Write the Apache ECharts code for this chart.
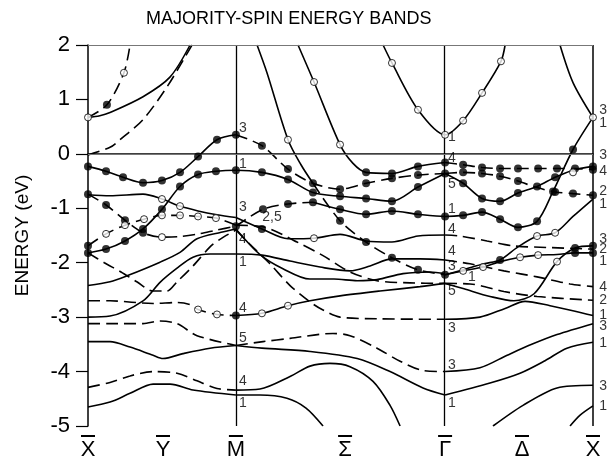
<!DOCTYPE html>
<html><head><meta charset="utf-8">
<script src="https://cdn.jsdelivr.net/npm/echarts@6/dist/echarts.min.js"></script>
<style>html,body{margin:0;padding:0;background:#fff}#c{width:608px;height:461px}</style>
</head><body><div id="c"></div>
<script>
// symmetry points along the surface Brillouin-zone path (X-M = 1, M-Gamma = sqrt2, Gamma-X = 1)
// the labels are the barred symmetry points (X̄, Ȳ, M̄, Σ̄, Γ̄, Δ̄, X̄); the bar is drawn above each letter
const kTicks = [0, 0.507, 1, 1.738, 2.4142, 2.934, 3.4142];
const kTickLabels = ['X', 'Y', 'M', '\u03A3', '\u0393', '\u0394', 'X'];
const energyMin = -5, energyMax = 2;

// bands: [k, E(eV)]
const bandT1 = [[0,0.67],[0.08,0.70],[0.149,0.76],[0.372,1.05],[0.554,1.41],[0.69,2.0]];
const bandT2 = [[0,0.67],[0.128,0.90],[0.243,1.49],[0.284,2.0]];
const bandT3 = [[0,-0.02],[0.149,0.12],[0.216,0.26],[0.372,0.63],[0.534,1.23],[0.656,1.78],[0.703,2.0]];
const bandC1 = [[0,-0.23],[0.122,-0.32],[0.237,-0.43],[0.372,-0.53],[0.5,-0.49],[0.622,-0.34],[0.744,-0.05],[0.872,0.26],[1.0,0.35]];
const bandC2 = [[1.0,0.35],[1.176,0.15],[1.352,-0.28],[1.521,-0.54],[1.704,-0.65],[1.88,-0.54],[2.055,-0.45],[2.231,-0.39],[2.414,-0.36]];
const bandD1 = [[0,-1.82],[0.122,-1.75],[0.25,-1.6],[0.372,-1.38],[0.5,-1.02],[0.622,-0.6],[0.744,-0.38],[0.865,-0.32],[1.0,-0.3],[1.176,-0.34],[1.352,-0.47],[1.521,-0.71],[1.704,-0.78],[1.88,-0.82],[2.055,-0.87],[2.231,-0.61],[2.414,-0.36]];
const bandE1 = [[0,-0.75],[0.149,-0.77],[0.372,-0.74],[0.5,-0.83],[0.622,-0.96],[0.744,-1.05],[0.872,-1.12],[1.0,-1.17]];
const bandE2 = [[1.0,-1.17],[1.176,-1.38],[1.352,-1.56],[1.528,-1.55],[1.704,-1.48],[1.88,-1.6],[2.055,-1.62],[2.231,-1.51],[2.414,-1.49]];
const bandE3 = [[2.414,-1.49],[2.515,-1.51],[2.698,-1.6],[2.874,-1.69],[3.104,-1.72],[3.414,-1.75]];
const bandF1 = [[0,-0.74],[0.122,-0.94],[0.25,-1.22],[0.372,-1.45],[0.5,-1.53],[0.622,-1.52],[0.75,-1.47],[0.87,-1.4],[1.0,-1.33]];
const bandF2 = [[1.0,-1.33],[1.183,-1.02],[1.352,-0.92],[1.521,-0.89]];
const bandF3 = [[1.521,-0.89],[1.704,-1.02],[1.88,-1.11],[2.055,-1.05],[2.231,-1.11],[2.414,-1.15],[2.536,-1.13],[2.664,-1.07],[2.786,-1.2],[2.907,-1.35],[3.036,-1.24],[3.144,-0.69],[3.279,0.08],[3.414,0.67]];
const bandG1 = [[0,-1.69],[0.122,-1.47],[0.25,-1.31],[0.379,-1.2],[0.5,-1.13],[0.622,-1.13],[0.744,-1.15],[0.865,-1.18],[1.0,-1.31]];
const bandG2 = [[1.0,-1.31],[1.197,-1.35],[1.413,-1.62],[1.589,-1.87],[1.771,-2.17],[1.954,-2.33],[2.177,-2.37],[2.414,-2.38]];
const bandI1 = [[0,-1.82],[0.11,-2.0],[0.223,-2.17],[0.33,-2.35],[0.44,-2.52],[0.534,-2.52],[0.602,-2.35],[0.71,-2.06],[0.825,-1.71],[0.892,-1.57],[1.0,-1.4]];
const bandI2 = [[1.0,-1.4],[1.095,-1.66],[1.23,-2.02],[1.366,-2.42],[1.501,-2.72],[1.589,-2.87],[1.704,-3.0],[1.954,-3.03],[2.414,-3.04]];
const bandI3 = [[2.414,-3.04],[2.65,-3.0],[2.82,-2.84],[2.955,-2.71],[3.124,-2.79],[3.293,-2.89],[3.414,-2.97]];
const bandJ1 = [[0,-2.42],[0.149,-2.35],[0.264,-2.24],[0.487,-1.99],[0.622,-1.81],[0.737,-1.56],[0.9,-1.44],[1.0,-1.38]];
const bandJ2 = [[1.0,-1.38],[1.163,-1.85],[1.318,-2.11],[1.5,-2.3],[1.663,-2.3],[1.82,-2.33],[1.954,-2.31],[2.13,-2.2],[2.312,-2.17],[2.414,-2.2]];
const bandJ3 = [[2.414,-2.22],[2.536,-2.15],[2.671,-2.08],[2.786,-1.98],[2.921,-1.9],[3.043,-1.86],[3.171,-1.85],[3.293,-1.82],[3.414,-1.82]];
const bandU1 = [[1.143,2.0],[1.21,1.49],[1.352,0.26],[1.44,-0.2],[1.521,-0.54]];
const bandU2 = [[1.521,-0.54],[1.704,-1.23],[1.88,-1.62],[2.055,-1.91],[2.231,-2.13],[2.414,-2.22]];
const bandU3 = [[2.414,-2.22],[2.536,-2.13],[2.677,-2.02],[2.786,-1.95],[2.907,-1.71],[3.036,-1.51],[3.158,-1.45],[3.279,-1.15],[3.414,-0.83]];
const bandA1 = [[1.42,2.0],[1.528,1.32],[1.704,0.17],[1.79,-0.17],[1.88,-0.34],[2.055,-0.36],[2.231,-0.23],[2.414,-0.16]];
const bandA2 = [[2.414,-0.16],[2.536,-0.2],[2.664,-0.25],[2.786,-0.27],[2.907,-0.27],[3.043,-0.27],[3.171,-0.27],[3.293,-0.27],[3.414,-0.29]];
const bandB2 = [[2.414,-0.36],[2.536,-0.34],[2.664,-0.36],[2.786,-0.41],[2.907,-0.5],[3.036,-0.62],[3.158,-0.7],[3.279,-0.73],[3.414,-0.76]];
const bandD2 = [[2.414,-0.36],[2.536,-0.54],[2.664,-0.82],[2.786,-0.87],[2.907,-0.72],[3.036,-0.6],[3.158,-0.43],[3.279,-0.3],[3.414,-0.23]];
const bandK1 = [[0,-3.0],[0.149,-2.98],[0.372,-2.7],[0.487,-2.36],[0.602,-2.1],[0.71,-1.9],[0.825,-1.84],[1.0,-1.84]];
const bandK2 = [[1.0,-1.84],[1.176,-1.86],[1.366,-1.97],[1.569,-2.08],[1.771,-2.15],[1.907,-2.06],[2.055,-1.93],[2.245,-1.93],[2.414,-1.95]];
const bandK3 = [[2.414,-1.95],[2.583,-2.02],[2.812,-2.15],[3.036,-2.26],[3.259,-2.39],[3.414,-2.44]];
const bandL1 = [[0,-2.7],[0.149,-2.7],[0.44,-2.75],[0.602,-2.73],[0.69,-2.77],[0.744,-2.86],[0.872,-2.95],[1.0,-2.97]];
const bandL2 = [[1.0,-2.97],[1.176,-2.93],[1.352,-2.79],[1.501,-2.7],[1.704,-2.61],[1.974,-2.52],[2.245,-2.44],[2.414,-2.38]];
const bandL3 = [[2.414,-2.38],[2.583,-2.39],[2.812,-2.53],[3.036,-2.62],[3.414,-2.69]];
const bandL4 = [[2.414,-2.38],[2.542,-2.48],[2.718,-2.62],[2.88,-2.7],[3.016,-2.57],[3.171,-1.98],[3.293,-1.73],[3.414,-1.69]];
const bandM1 = [[0,-3.12],[0.149,-3.12],[0.372,-3.12],[0.487,-3.07],[0.602,-3.12],[0.737,-3.34],[1.0,-3.52]];
const bandM2 = [[1.0,-3.52],[1.183,-3.45],[1.366,-3.39],[1.656,-3.3],[1.771,-3.34],[1.954,-3.57],[2.11,-3.81],[2.265,-3.98],[2.414,-4.0]];
const bandM3 = [[2.414,-4.0],[2.65,-3.93],[2.834,-3.7],[3.0,-3.5],[3.171,-3.32],[3.414,-3.12]];
const bandN1 = [[0,-3.45],[0.149,-3.45],[0.284,-3.55],[0.44,-3.7],[0.507,-3.76],[0.642,-3.67],[0.825,-3.57],[1.0,-3.52]];
const bandN2 = [[1.0,-3.52],[1.176,-3.57],[1.501,-3.63],[1.82,-3.76],[2.042,-4.0],[2.265,-4.3],[2.414,-4.43]];
const bandN3 = [[2.414,-4.43],[2.718,-4.21],[2.921,-4.03],[3.09,-3.8],[3.238,-3.57],[3.414,-3.46]];
const bandO1 = [[0,-4.29],[0.149,-4.2],[0.284,-4.08],[0.44,-4.0],[0.602,-4.03],[0.737,-4.17],[0.872,-4.31],[1.0,-4.34]];
const bandO2 = [[1.0,-4.34],[1.163,-4.32],[1.366,-4.09],[1.501,-3.9],[1.636,-3.85],[1.771,-3.91],[1.927,-4.18],[2.042,-4.62],[2.11,-5.0]];
const bandP1 = [[0,-4.65],[0.149,-4.56],[0.284,-4.4],[0.44,-4.23],[0.555,-4.23],[0.71,-4.34],[1.0,-4.43]];
const bandP2 = [[1.0,-4.43],[1.163,-4.43],[1.345,-4.49],[1.474,-4.67],[1.589,-5.0]];
const bandQ1 = [[2.738,-5.0],[2.941,-4.62],[3.171,-4.3],[3.414,-4.25]];
const bandQ2 = [[3.259,-5.0],[3.327,-4.8],[3.414,-4.63]];
const bandV  = [[1.995,2.0],[2.055,1.67],[2.231,0.81],[2.414,0.35],[2.536,0.61],[2.664,1.12],[2.792,1.7],[2.82,2.0]];
const bandW  = [[3.191,2.0],[3.279,1.31],[3.414,0.67]];

// calculated points
const filledPoints = [
 [0.128,0.90],
 [0,-0.23],[0.122,-0.32],[0.237,-0.43],[0.372,-0.53],[0.5,-0.49],[0.622,-0.34],[0.744,-0.05],[0.872,0.26],[1.0,0.35],
 [0,-1.82],[0.122,-1.75],[0.25,-1.6],[0.372,-1.38],[0.5,-1.02],[0.622,-0.6],[0.744,-0.38],[0.865,-0.32],[1.0,-0.3],
 [0,-0.74],[0.122,-0.94],[0.25,-1.22],[0.372,-1.45],[1.0,-1.33],[0,-1.69],[1.0,-2.97],
 [1.176,0.15],[1.352,-0.28],[1.521,-0.54],[1.704,-0.65],[1.88,-0.54],[2.055,-0.45],[2.231,-0.39],[2.414,-0.36],
 [1.176,-0.34],[1.352,-0.47],[1.521,-0.71],[1.704,-0.78],[1.88,-0.82],[2.055,-0.87],[2.231,-0.61],
 [1.88,-0.34],[2.055,-0.36],[2.231,-0.23],[2.414,-0.16],
 [1.183,-1.02],[1.352,-0.92],[1.521,-0.89],[1.704,-1.02],[1.88,-1.11],[2.055,-1.05],[2.231,-1.11],[2.414,-1.15],
 [1.704,-1.23],[1.88,-1.62],[2.055,-1.91],[2.231,-2.13],[2.414,-2.22],[1.176,-1.38],
 [2.536,-0.2],[2.664,-0.25],[2.786,-0.27],[2.907,-0.27],[3.043,-0.27],[3.171,-0.27],[3.293,-0.27],[3.414,-0.29],
 [2.536,-0.34],[2.664,-0.36],[2.786,-0.41],[2.907,-0.5],[3.158,-0.7],[3.279,-0.73],[3.414,-0.76],
 [2.536,-0.54],[2.664,-0.82],[2.786,-0.87],[2.907,-0.72],[3.036,-0.6],[3.158,-0.43],[3.414,-0.23],
 [2.536,-1.13],[2.664,-1.07],[2.786,-1.2],[2.907,-1.35],[3.036,-1.24],[3.144,-0.69],[3.279,0.08],
 [2.786,-1.95],[3.293,-1.73],[3.414,-1.69],[3.293,-1.82],[3.414,-1.82]
];
const openPoints = [
 [0,0.67],[0.243,1.49],[0.5,-0.83],[0.622,-0.96],
 [0.122,-1.47],[0.25,-1.31],[0.379,-1.2],[0.5,-1.13],[0.622,-1.13],[0.744,-1.15],[0.865,-1.18],
 [0.5,-1.53],[0.744,-2.86],[0.872,-2.95],[1.176,-2.93],[1.352,-2.79],
 [1.352,0.26],[1.528,1.32],[1.704,0.17],[1.528,-1.55],
 [2.055,1.67],[2.231,0.81],[2.414,0.35],[2.536,0.61],[2.664,1.12],[2.792,1.70],[3.414,0.67],
 [2.536,-2.15],[2.671,-2.08],[2.921,-1.9],[3.043,-1.86],[3.036,-1.51],[3.158,-1.45],[3.171,-1.98],[3.279,-0.34]
];

// symmetry labels of the bands: [k, E, text]
const bandLabels = [
 [1.048,0.48,'3'],[1.048,-0.19,'1'],[1.048,-0.98,'3'],[1.244,-1.16,'2,5'],[1.048,-1.56,'4'],[1.048,-1.99,'1'],
 [1.048,-2.84,'4'],[1.048,-3.39,'5'],[1.048,-4.18,'4'],[1.048,-4.58,'1'],
 [2.461,0.30,'1'],[2.461,-0.07,'4'],[2.461,-0.56,'5'],[2.461,-1.02,'1'],[2.461,-1.39,'4'],[2.461,-1.78,'4'],
 [2.461,-2.06,'3'],[2.596,-2.26,'1'],[2.461,-2.53,'5'],[2.461,-3.21,'3'],[2.461,-3.89,'3'],[2.461,-4.58,'1'],
 [3.482,0.81,'3'],[3.482,0.57,'1'],[3.482,-0.03,'3'],[3.482,-0.32,'4'],[3.482,-0.69,'2'],[3.482,-0.92,'1'],
 [3.482,-1.56,'3'],[3.482,-1.75,'2'],[3.482,-1.97,'1'],[3.482,-2.44,'4'],[3.482,-2.69,'2'],[3.482,-2.97,'1'],
 [3.482,-3.17,'3'],[3.482,-3.48,'1'],[3.482,-4.27,'3'],[3.482,-4.64,'1']
];

// [data, dashed?]
const bandList = [
 [bandT1,0],[bandT2,1],[bandT3,1],[bandC1,0],[bandC2,1],[bandD1,0],[bandE1,0],[bandE2,0],[bandE3,1],
 [bandF1,1],[bandF2,1],[bandF3,0],[bandG1,1],[bandG2,1],[bandI1,1],[bandI2,1],[bandI3,0],
 [bandJ1,0],[bandJ2,0],[bandJ3,0],[bandU1,0],[bandU2,1],[bandU3,0],[bandA1,0],[bandA2,1],[bandB2,1],[bandD2,0],
 [bandK1,0],[bandK2,0],[bandK3,1],[bandL1,1],[bandL2,0],[bandL3,1],[bandL4,0],[bandM1,1],[bandM2,1],[bandM3,0],
 [bandN1,0],[bandN2,0],[bandN3,0],[bandO1,1],[bandO2,0],[bandP1,0],[bandP2,0],[bandQ1,0],[bandQ2,0],[bandV,0],[bandW,0]
];

const FONT = 'Liberation Sans, Arial, Helvetica, sans-serif';
const chart = echarts.init(document.getElementById('c'), null, {renderer: 'canvas'});
const series = bandList.map(([d, dashed]) => ({
  type: 'line', data: d, smooth: 0.3, symbol: 'none', silent: true, z: 2,
  lineStyle: {color: '#000', width: 1.6, type: dashed ? [12, 6] : 'solid'}
}));
series.push({
  type: 'line', data: [], silent: true, z: 1,
  markLine: {
    silent: true, symbol: 'none', label: {show: false}, animation: false,
    data: [
      {xAxis: 1, lineStyle: {color: '#000', width: 1.3, type: 'solid'}},
      {xAxis: kTicks[4], lineStyle: {color: '#000', width: 1.3, type: 'solid'}},
      {xAxis: kTicks[6], lineStyle: {color: '#000', width: 1.5, type: 'solid'}},
      {yAxis: 0, lineStyle: {color: '#777', width: 1.2, type: 'solid'}},
      {yAxis: energyMax, lineStyle: {color: '#777', width: 1.2, type: 'solid'}}
    ]
  }
});
series.push({
  type: 'scatter', data: filledPoints, symbol: 'circle', symbolSize: 8, z: 5, silent: true, clip: false,
  itemStyle: {color: '#000'}
});
series.push({
  type: 'scatter', data: openPoints, symbol: 'circle', symbolSize: 7, z: 6, silent: true, clip: false,
  itemStyle: {color: '#fff', borderColor: '#000', borderWidth: 1}
});
series.push({
  type: 'scatter', data: bandLabels, symbolSize: 1, z: 7, silent: true, clip: false,
  itemStyle: {color: 'rgba(0,0,0,0)'},
  label: {show: true, position: 'inside', formatter: p => p.data[2], color: '#000', fontSize: 14, fontFamily: FONT}
});

chart.setOption({
  animation: false,
  backgroundColor: '#fff',
  grid: {left: 88, right: 15, top: 45, bottom: 33, containLabel: false},
  graphic: [{
    type: 'text', left: 288 - 142, top: 10,
    style: {text: 'MAJORITY-SPIN ENERGY BANDS', font: '18px ' + FONT, fill: '#000'}
  }],
  xAxis: {
    type: 'value', min: 0, max: kTicks[6],
    axisLine: {show: true, lineStyle: {color: '#000', width: 1.5}},
    axisTick: {show: false},
    splitLine: {show: false},
    axisLabel: {
      show: true, customValues: kTicks, margin: 6, color: '#000',
      formatter: v => { const i = kTicks.findIndex(t => Math.abs(t - v) < 1e-3); return i >= 0 ? '{bar| }\n{t|' + kTickLabels[i] + '}' : ''; },
      rich: {
        bar: {width: 14, height: 2, lineHeight: 8, backgroundColor: '#000', align: 'center', fontSize: 2},
        t: {fontSize: 22, lineHeight: 20, fontFamily: FONT, color: '#000', align: 'center'}
      }
    }
  },
  yAxis: {
    type: 'value', min: energyMin, max: energyMax, interval: 1,
    name: 'ENERGY (eV)', nameLocation: 'middle', nameGap: 56, nameRotate: 90,
    nameTextStyle: {color: '#000', fontSize: 19, fontFamily: FONT},
    axisLine: {show: true, lineStyle: {color: '#000', width: 1.5}},
    axisTick: {show: true, length: 12, lineStyle: {color: '#000', width: 1.2}},
    splitLine: {show: false},
    axisLabel: {color: '#000', fontSize: 22, fontFamily: FONT, margin: 18,
      formatter: v => v < 0 ? '-' + (-v) : String(v)}
  },
  series: series
});
</script></body></html>
